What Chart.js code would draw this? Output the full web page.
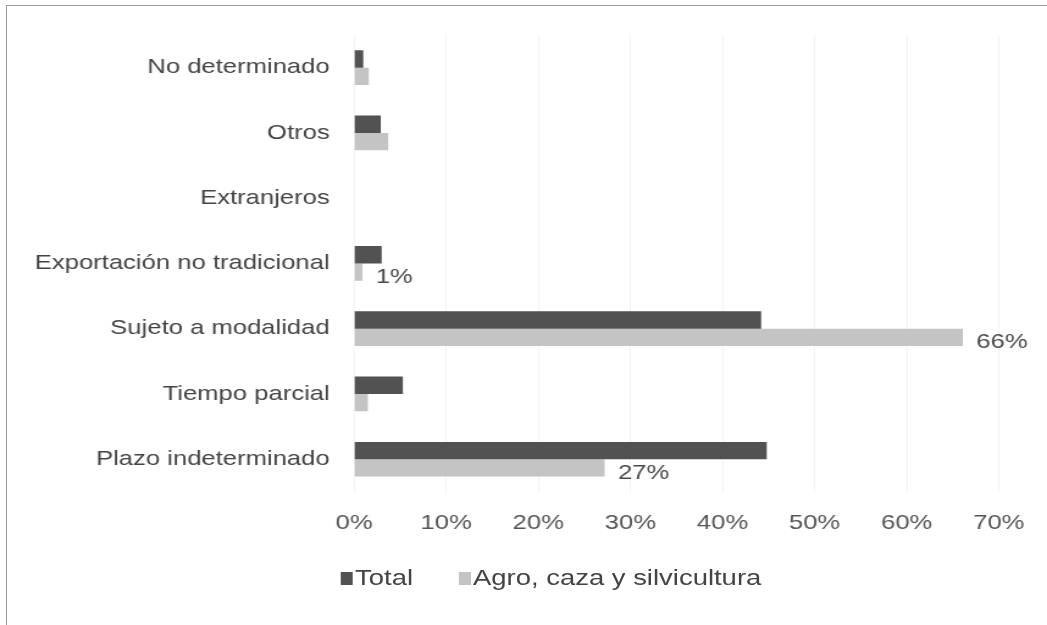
<!DOCTYPE html>
<html>
<head>
<meta charset="utf-8">
<script src="https://cdn.jsdelivr.net/npm/chart.js@4"></script>
<style>
  body { margin: 0; background: #fff; overflow: hidden; }
  #frame { position: absolute; left: 6px; top: 5px; width: 1060px; height: 640px; border: 1px solid #9a9a9a; }
  /* the reference looks stretched sideways, so the whole chart is drawn narrow and scaled in x */
  #wrap { position: absolute; left: 0; top: 0; width: 858px; height: 625px; transform: scaleX(1.2203); transform-origin: 0 0; }
  #legend { position: absolute; left: 279px; top: 565px; font: 22.5px 'Liberation Sans', Arial, sans-serif; color: #444; white-space: nowrap; line-height: 26px; }
  #legend span.box { display: inline-block; width: 10px; height: 13px; margin-right: 2px; vertical-align: 0px; }
  #legend span.item { margin-right: 37px; }
</style>
</head>
<body>
<div id="frame"></div>
<div id="wrap">
  <canvas id="chart"></canvas>
  <div id="legend"></div>
</div>
<script>
const categories = ["No determinado", "Otros", "Extranjeros", "Exportación no tradicional", "Sujeto a modalidad", "Tiempo parcial", "Plazo indeterminado"];
const totalValues = [1.0, 2.9, 0, 3.0, 44.2, 5.3, 44.8];
const agroValues = [1.6, 3.7, 0, 0.9, 66.1, 1.5, 27.2];
const agroLabels = ["", "", "", "1%", "66%", "", "27%"];
const xTicks = [0, 10, 20, 30, 40, 50, 60, 70];
const seriesNames = ["Total", "Agro, caza y silvicultura"];
const seriesColors = ["#525252", "#c4c4c4"];

const fontFamily = "'Liberation Sans', Arial, sans-serif";

const labelPlugin = {
    id: "barLabels",
    afterDatasetsDraw(chart) {
        const ctx = chart.ctx;
        const meta = chart.getDatasetMeta(1);
        ctx.save();
        ctx.font = "21px " + fontFamily;
        ctx.fillStyle = "#4a4a4a";
        ctx.textBaseline = "middle";
        meta.data.forEach((bar, i) => {
            if (!agroLabels[i]) return;
            ctx.fillText(agroLabels[i], bar.x + 11, bar.y + 5);
        });
        ctx.restore();
    }
};

const ctx = document.getElementById("chart").getContext("2d");
new Chart(ctx, {
    type: "bar",
    data: {
        labels: categories,
        datasets: [
            {label: seriesNames[0], data: totalValues, backgroundColor: seriesColors[0]},
            {label: seriesNames[1], data: agroValues, backgroundColor: seriesColors[1]}
        ]
    },
    options: {
        indexAxis: "y",
        responsive: true,
        maintainAspectRatio: false,
        animation: false,
        layout: {padding: {top: 35, right: 38, left: 16.5, bottom: 71}},
        datasets: {bar: {categoryPercentage: 0.53, barPercentage: 1.0}},
        scales: {
            x: {
                min: 0,
                max: 70,
                afterBuildTicks: axis => { axis.ticks = xTicks.map(v => ({value: v})); },
                ticks: {
                    callback: v => v + "%",
                    color: "#555555",
                    padding: 18.5,
                    font: {size: 21, family: fontFamily}
                },
                grid: {color: "#f3f3f3", drawTicks: false},
                border: {display: false}
            },
            y: {
                ticks: {
                    color: "#444444",
                    padding: 12,
                    font: {size: 21, family: fontFamily}
                },
                grid: {display: false},
                border: {display: false}
            }
        },
        plugins: {
            legend: {display: false},
            tooltip: {enabled: false}
        }
    },
    plugins: [labelPlugin]
});

const legend = document.getElementById("legend");
seriesNames.forEach((name, i) => {
    const item = document.createElement("span");
    item.className = "item";
    item.innerHTML = `<span class="box" style="background:${seriesColors[i]}"></span>${name}`;
    legend.appendChild(item);
});
</script>
</body>
</html>
